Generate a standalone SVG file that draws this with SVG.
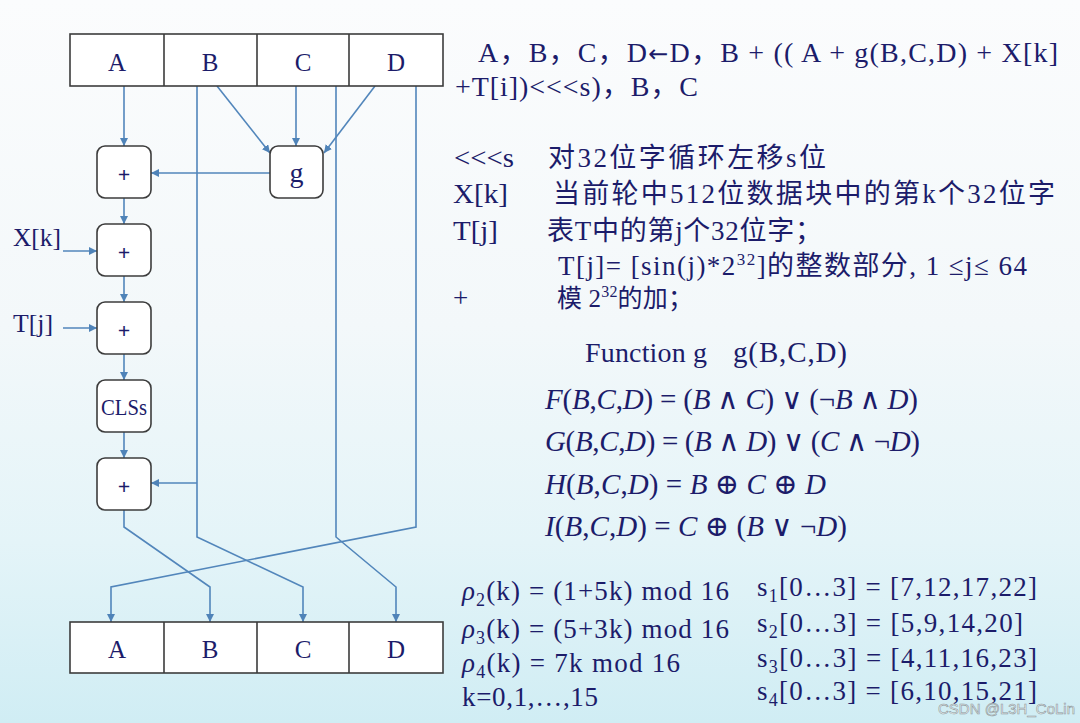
<svg xmlns="http://www.w3.org/2000/svg" width="1080" height="723" viewBox="0 0 1080 723">
<defs>
<linearGradient id="bg" x1="0" y1="0" x2="0" y2="1">
<stop offset="0" stop-color="#fbfcfd"/>
<stop offset="0.45" stop-color="#f3f8fa"/>
<stop offset="0.75" stop-color="#e4f4f8"/>
<stop offset="1" stop-color="#d0edf4"/>
</linearGradient>
<marker id="ah" viewBox="0 0 10 10" refX="10" refY="5" markerWidth="8" markerHeight="8" markerUnits="userSpaceOnUse" orient="auto"><path d="M0,0 L10,5 L0,10 z" fill="#4f83b8"/></marker>
<style>
.reg{fill:#fff;stroke:#3c3c3c;stroke-width:1.6}
.op{fill:#fff;stroke:#3c3c3c;stroke-width:1.6}
.lbl{font-family:"Liberation Serif","DejaVu Serif",serif;fill:#1c1c6a;font-size:25px;text-anchor:middle}
.plus{font-family:"Liberation Serif","DejaVu Serif",serif;fill:#1c1c6a;font-size:22px;font-weight:bold;text-anchor:middle}
.side{font-family:"Liberation Serif","DejaVu Serif",serif;fill:#1c1c6a;font-size:26px}
.c{fill:none;stroke:#5286bb;stroke-width:1.6}
.t{font-family:"Liberation Serif","Noto Sans CJK SC","DejaVu Serif",serif;font-size:27px;fill:#1c1c6a}
.m{font-family:"Liberation Serif","DejaVu Serif",serif;font-size:29px;fill:#1c1c6a}
.i{font-style:italic}
.arr{font-family:"DejaVu Sans","Noto Sans CJK SC",sans-serif}
.wm{font-family:"Liberation Sans",Arial,sans-serif;font-size:15px;fill:#f6fafb;stroke:#8d989c;stroke-width:0.6}
</style>
</defs>
<rect x="0" y="0" width="1080" height="723" fill="url(#bg)"/>

<g id="connectors">
<path class="c" d="M124,86 V146" marker-end="url(#ah)"/>
<path class="c" d="M217,86 L270,153" marker-end="url(#ah)"/>
<path class="c" d="M296,86 V146" marker-end="url(#ah)"/>
<path class="c" d="M375,86 L324,153" marker-end="url(#ah)"/>
<path class="c" d="M270,173 H151" marker-end="url(#ah)"/>
<path class="c" d="M124,198 V224" marker-end="url(#ah)"/>
<path class="c" d="M63,251 H97" marker-end="url(#ah)"/>
<path class="c" d="M124,276 V302" marker-end="url(#ah)"/>
<path class="c" d="M63,328 H97" marker-end="url(#ah)"/>
<path class="c" d="M124,354 V380" marker-end="url(#ah)"/>
<path class="c" d="M124,432 V458" marker-end="url(#ah)"/>
<path class="c" d="M197,86 V537 L303,587 V622" marker-end="url(#ah)"/>
<path class="c" d="M197,483 H151" marker-end="url(#ah)"/>
<path class="c" d="M124,510 V527 L210,587 V622" marker-end="url(#ah)"/>
<path class="c" d="M336,86 V537 L396,587 V622" marker-end="url(#ah)"/>
<path class="c" d="M416,86 V527 L111,587 V622" marker-end="url(#ah)"/>
</g>

<g id="reg-in">
<rect class="reg" x="70" y="34" width="373" height="52"/>
<path class="reg" d="M164,34 V86 M257,34 V86 M349,34 V86"/>
<text class="lbl" x="117" y="71">A</text>
<text class="lbl" x="210" y="71">B</text>
<text class="lbl" x="303" y="71">C</text>
<text class="lbl" x="396" y="71">D</text>
</g>

<g id="add1"><rect class="op" x="97" y="146" width="54" height="52" rx="8"/><text class="plus" x="124" y="182">+</text></g>
<g id="g-func"><rect class="op" x="270" y="146" width="53" height="52" rx="8"/><text class="lbl" x="296.5" y="182" style="font-size:28px">g</text></g>
<g id="add-x"><rect class="op" x="97" y="224" width="54" height="52" rx="8"/><text class="plus" x="124" y="260">+</text></g>
<g id="add-t"><rect class="op" x="97" y="302" width="54" height="52" rx="8"/><text class="plus" x="124" y="338">+</text></g>
<g id="cls"><rect class="op" x="97" y="380" width="54" height="52" rx="8"/><text class="lbl" x="124" y="415" style="font-size:23px" textLength="46" lengthAdjust="spacingAndGlyphs">CLSs</text></g>
<g id="add-b"><rect class="op" x="97" y="458" width="54" height="52" rx="8"/><text class="plus" x="124" y="494">+</text></g>
<g id="in-x"><text class="side" x="13" y="246" textLength="48" lengthAdjust="spacingAndGlyphs">X[k]</text></g>
<g id="in-t"><text class="side" x="13" y="332" textLength="40" lengthAdjust="spacingAndGlyphs">T[j]</text></g>

<g id="reg-out">
<rect class="reg" x="70" y="622" width="373" height="51"/>
<path class="reg" d="M164,622 V673 M257,622 V673 M349,622 V673"/>
<text class="lbl" x="117" y="658">A</text>
<text class="lbl" x="210" y="658">B</text>
<text class="lbl" x="303" y="658">C</text>
<text class="lbl" x="396" y="658">D</text>
</g>

<g id="notes">
<text class="t" x="478" y="62" style="font-size:28px" textLength="580" lengthAdjust="spacing">A，B，C，D<tspan class="arr" style="font-size:24px">←</tspan>D，B + (( A + g(B,C,D) + X[k]</text>
<text class="t" x="455" y="96" style="font-size:28px" textLength="243" lengthAdjust="spacing">+T[i])&lt;&lt;&lt;s)，B，C</text>
<text class="t" x="454" y="167" textLength="60" lengthAdjust="spacingAndGlyphs">&lt;&lt;&lt;s</text>
<text class="t" x="548" y="167" textLength="278" lengthAdjust="spacing">对32位字循环左移s位</text>
<text class="t" x="453" y="203" textLength="55" lengthAdjust="spacingAndGlyphs">X[k]</text>
<text class="t" x="553" y="203" textLength="502" lengthAdjust="spacing">当前轮中512位数据块中的第k个32位字</text>
<text class="t" x="453" y="240" textLength="45" lengthAdjust="spacingAndGlyphs">T[j]</text>
<text class="t" x="547" y="240" textLength="275" lengthAdjust="spacing">表T中的第j个32位字；</text>
<text class="t" x="558" y="275" textLength="469" lengthAdjust="spacing">T[j]= [sin(j)*2<tspan dy="-10" style="font-size:17px">32</tspan><tspan dy="10">]的整数部分, 1 ≤j≤ 64</tspan></text>
<text class="t" x="453" y="307">+</text>
<text class="t" x="557" y="307" style="font-size:25px" textLength="136" lengthAdjust="spacing">模 2<tspan dy="-10" style="font-size:16px">32</tspan><tspan dy="10">的加；</tspan></text>
<text class="t" x="585" y="362" style="font-size:28px" textLength="122" lengthAdjust="spacing">Function g</text>
<text class="t" x="733" y="362" style="font-size:29px" textLength="114" lengthAdjust="spacing">g(B,C,D)</text>
</g>

<g id="functions">
<text class="m" x="545" y="409" textLength="373" lengthAdjust="spacing"><tspan class="i">F</tspan>(<tspan class="i">B</tspan>,<tspan class="i">C</tspan>,<tspan class="i">D</tspan>) = (<tspan class="i">B</tspan> ∧ <tspan class="i">C</tspan>) ∨ (¬<tspan class="i">B</tspan> ∧ <tspan class="i">D</tspan>)</text>
<text class="m" x="545" y="451" textLength="375" lengthAdjust="spacing"><tspan class="i">G</tspan>(<tspan class="i">B</tspan>,<tspan class="i">C</tspan>,<tspan class="i">D</tspan>) = (<tspan class="i">B</tspan> ∧ <tspan class="i">D</tspan>) ∨ (<tspan class="i">C</tspan> ∧ ¬<tspan class="i">D</tspan>)</text>
<text class="m" x="545" y="494" textLength="281" lengthAdjust="spacing"><tspan class="i">H</tspan>(<tspan class="i">B</tspan>,<tspan class="i">C</tspan>,<tspan class="i">D</tspan>) = <tspan class="i">B</tspan> ⊕ <tspan class="i">C</tspan> ⊕ <tspan class="i">D</tspan></text>
<text class="m" x="545" y="536" textLength="302" lengthAdjust="spacing"><tspan class="i">I</tspan>(<tspan class="i">B</tspan>,<tspan class="i">C</tspan>,<tspan class="i">D</tspan>) = <tspan class="i">C</tspan> ⊕ (<tspan class="i">B</tspan> ∨ ¬<tspan class="i">D</tspan>)</text>
</g>

<g id="params">
<text class="t" x="462" y="600" textLength="267" lengthAdjust="spacing"><tspan class="i">ρ</tspan><tspan dy="6" style="font-size:18px">2</tspan><tspan dy="-6">(k) = (1+5k) mod 16</tspan></text>
<text class="t" x="462" y="638" textLength="267" lengthAdjust="spacing"><tspan class="i">ρ</tspan><tspan dy="6" style="font-size:18px">3</tspan><tspan dy="-6">(k) = (5+3k) mod 16</tspan></text>
<text class="t" x="462" y="672" textLength="218" lengthAdjust="spacing"><tspan class="i">ρ</tspan><tspan dy="6" style="font-size:18px">4</tspan><tspan dy="-6">(k) = 7k mod 16</tspan></text>
<text class="t" x="462" y="706" textLength="136" lengthAdjust="spacing">k=0,1,…,15</text>
<text class="t" x="757" y="596" textLength="280" lengthAdjust="spacing">s<tspan dy="6" style="font-size:18px">1</tspan><tspan dy="-6">[0…3] = [7,12,17,22]</tspan></text>
<text class="t" x="757" y="632" textLength="266" lengthAdjust="spacing">s<tspan dy="6" style="font-size:18px">2</tspan><tspan dy="-6">[0…3] = [5,9,14,20]</tspan></text>
<text class="t" x="757" y="667" textLength="280" lengthAdjust="spacing">s<tspan dy="6" style="font-size:18px">3</tspan><tspan dy="-6">[0…3] = [4,11,16,23]</tspan></text>
<text class="t" x="757" y="700" textLength="280" lengthAdjust="spacing">s<tspan dy="6" style="font-size:18px">4</tspan><tspan dy="-6">[0…3] = [6,10,15,21]</tspan></text>
</g>

<text class="wm" x="938" y="714" textLength="137" lengthAdjust="spacingAndGlyphs">CSDN @L3H_CoLin</text>
</svg>
